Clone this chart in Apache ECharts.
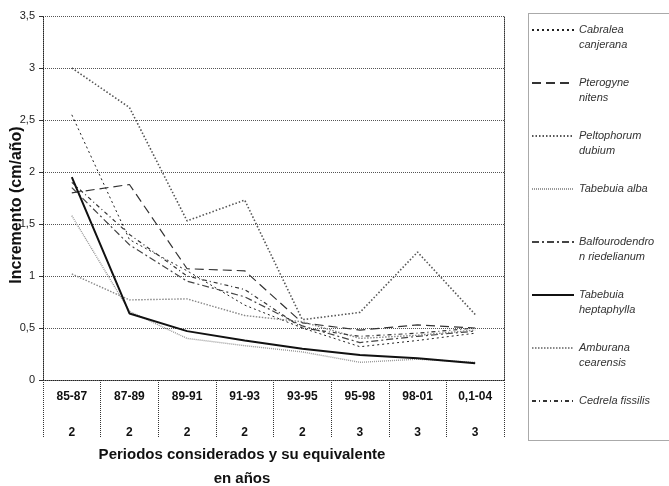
<!DOCTYPE html>
<html><head><meta charset="utf-8">
<script src="https://cdn.jsdelivr.net/npm/echarts@6/dist/echarts.min.js"></script>
<style>html,body{margin:0;padding:0;background:#fff}#c{width:669px;height:486px}</style>
</head><body><div id="c"></div>
<script>
// ---- data ----
const periods = ['85-87', '87-89', '89-91', '91-93', '93-95', '95-98', '98-01', '0,1-04'];
const years = ['2', '2', '2', '2', '2', '3', '3', '3'];
const cabralea      = [2.55, 1.35, 1.05, 0.72, 0.50, 0.32, 0.38, 0.45];
const pterogyne     = [1.80, 1.88, 1.07, 1.05, 0.55, 0.48, 0.53, 0.50];
const peltophorum   = [3.00, 2.62, 1.53, 1.73, 0.58, 0.65, 1.23, 0.63];
const tabebuiaAlba  = [1.58, 0.66, 0.40, 0.33, 0.27, 0.17, 0.20, 0.17];
const balfourodendron = [1.85, 1.30, 0.95, 0.80, 0.52, 0.36, 0.42, 0.47];
const heptaphylla   = [1.95, 0.64, 0.47, 0.38, 0.30, 0.24, 0.21, 0.16];
const amburana      = [1.02, 0.77, 0.78, 0.62, 0.56, 0.40, 0.43, 0.48];
const cedrela       = [1.90, 1.40, 1.00, 0.87, 0.50, 0.42, 0.45, 0.50];
const seriesNames = ['Cabralea canjerana', 'Pterogyne nitens', 'Peltophorum dubium', 'Tabebuia alba',
  'Balfourodendron riedelianum', 'Tabebuia heptaphylla', 'Amburana cearensis', 'Cedrela fissilis'];
const legendLabels = ['Cabralea\ncanjerana', 'Pterogyne\nnitens', 'Peltophorum\ndubium', 'Tabebuia alba',
  'Balfourodendro\nn riedelianum', 'Tabebuia\nheptaphylla', 'Amburana\ncearensis', 'Cedrela fissilis'];
const yTickLabels = ['0', '0,5', '1', '1,5', '2', '2,5', '3', '3,5'];
const xTitle = 'Periodos considerados y su equivalente\nen años';
const yTitle = 'Incremento (cm/año)';

const values = [cabralea, pterogyne, peltophorum, tabebuiaAlba, balfourodendron, heptaphylla, amburana, cedrela];
const styles = [
  {color: '#222', width: 1, type: [2, 3]},
  {color: '#333', width: 1.2, type: [9, 5]},
  {color: '#555', width: 1.6, type: [1.5, 2]},
  {color: '#999', width: 1.4, type: [1, 1]},
  {color: '#444', width: 1.2, type: [7, 3, 2, 3]},
  {color: '#111', width: 2, type: 'solid'},
  {color: '#888', width: 1.4, type: [1.5, 1.5]},
  {color: '#333', width: 1.2, type: [4, 3, 1, 3]}
];
const FONT = '"Liberation Sans", Arial, sans-serif';

// legend text: first line aligned with the sample line (blank line above keeps it centred)
function legendText(label) {
  return label.indexOf('\n') >= 0 ? '\n' + label : '\n' + label + '\n';
}

const chart = echarts.init(document.getElementById('c'), null, {renderer: 'canvas'});
const option = {
  animation: false,
  backgroundColor: '#fff',
  grid: {left: 43, right: 165, top: 16, bottom: 106, containLabel: false},
  xAxis: {
    type: 'category', data: periods, boundaryGap: true,
    axisLine: {show: true, lineStyle: {color: '#222', width: 1, type: [1, 1]}},
    axisTick: {show: true, length: 58, lineStyle: {color: '#333', width: 1, type: [1, 1]}},
    axisLabel: {
      margin: 8, fontSize: 12, fontWeight: 'bold', color: '#111', fontFamily: FONT, lineHeight: 18,
      formatter: (v, i) => v + '\n\n' + years[i]
    },
    splitLine: {show: false}
  },
  yAxis: [{
    type: 'value', min: 0, max: 3.5, interval: 0.5,
    axisLine: {show: true, lineStyle: {color: '#222', width: 1, type: [1, 1]}},
    axisTick: {show: true, length: 4, lineStyle: {color: '#333'}},
    axisLabel: {margin: 8, fontSize: 11, color: '#222', fontFamily: FONT,
      formatter: v => yTickLabels[Math.round(v / 0.5)]},
    splitLine: {show: true, lineStyle: {color: '#555', width: 1, type: [1, 1]}}
  }, {
    type: 'value', min: 0, max: 3.5, interval: 0.5, position: 'right',
    axisLine: {show: true, lineStyle: {color: '#333', width: 1, type: [1, 1]}},
    axisTick: {show: false}, axisLabel: {show: false}, splitLine: {show: false}
  }],
  legend: {
    orient: 'vertical', left: 531, top: 7.5, padding: 0, itemGap: 8,
    itemWidth: 42, itemHeight: 10,
    itemStyle: {opacity: 0, color: 'rgba(0,0,0,0)', borderWidth: 0},
    textStyle: {fontSize: 11, fontStyle: 'italic', color: '#333', fontFamily: FONT, lineHeight: 15},
    formatter: name => legendText(legendLabels[seriesNames.indexOf(name)]),
    data: seriesNames,
    selectedMode: false
  },
  graphic: [
    {type: 'rect', left: 526, top: 11, shape: {x: 0, y: 0, width: 141, height: 427},
     style: {fill: 'none', stroke: '#555', lineWidth: 1, lineDash: [1, 1]}},
    {type: 'text', x: 242, y: 443, style: {text: xTitle, font: 'bold 15px ' + FONT, fill: '#111',
      align: 'center', verticalAlign: 'top', lineHeight: 24}},
    {type: 'text', x: 17, y: 205, rotation: Math.PI / 2,
     style: {text: yTitle, font: 'bold 16px ' + FONT, fill: '#111', align: 'center', verticalAlign: 'middle'}}
  ],
  series: seriesNames.map((n, i) => ({
    name: n, type: 'line', data: values[i], symbol: 'none', showSymbol: false,
    z: i === 5 ? 5 : 2,
    lineStyle: styles[i], itemStyle: {color: styles[i].color}
  }))
};
chart.setOption(option);
</script>
</body></html>
